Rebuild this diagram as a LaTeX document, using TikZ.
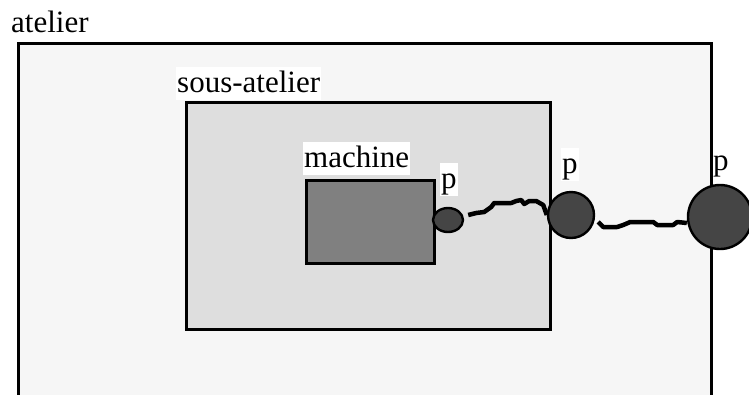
\documentclass[tikz,border=0pt]{standalone}
\usepackage{fontspec}
\setmainfont{Liberation Serif}
\usetikzlibrary{shapes.geometric}

\definecolor{fondatelier}{HTML}{F6F6F6}
\definecolor{fondsous}{HTML}{DEDEDE}
\definecolor{fondmachine}{HTML}{808080}
\definecolor{fondport}{HTML}{454545}

\begin{document}
\begin{tikzpicture}[
        x=1pt, y=-1pt,
        every node/.style={
            font=\fontsize{31}{37}\selectfont
        },
        boite/.style={draw, line width=2.6pt, inner sep=0pt, anchor=north west},
        etiquette/.style={fill=white, inner sep=1pt, text height=24pt, text depth=7pt, anchor=base west},
        port/.style={draw, line width=2.4pt, fill=fondport, inner sep=0pt},
        fil/.style={line width=4.5pt, line join=round}
    ]
        \useasboundingbox (0,0) rectangle (749,394);
        \clip (0,0) rectangle (749,394);

        % Atelier
        \node[boite, fill=fondatelier, minimum width=693pt, minimum height=420pt] (atelier) at (17,42) {};
        \node[etiquette, fill=none] (latelier) at (10,32) {atelier};

        % Sous-atelier
        \node[boite, fill=fondsous, minimum width=364pt, minimum height=227pt] (sousatelier) at (185,101) {};
        \node[etiquette] (lsous) at (176,92) {sous-atelier};

        % Machine
        \node[boite, fill=fondmachine, minimum width=128pt, minimum height=83pt] (machine) at (305,179) {};
        \node[etiquette] (lmachine) at (303,167) {machine};

        % Ports
        \node[port, ellipse, minimum width=30pt, minimum height=24pt] (pm) at (448,220) {};
        \node[port, circle, minimum size=46pt] (psa) at (571,215) {};
        \node[port, circle, minimum size=64pt] (pa) at (720,217) {};

        \node[etiquette] (lpm) at (440,188) {p};
        \node[etiquette] (lpsa) at (561,173) {p};
        \node[etiquette, fill=none] (lpa) at (712,170) {p};

        % Liaisons
        \draw[fil] (pm.east) ++(4,-5) -- ++(8,-2) -- ++(8,-1) -- ++(7,-5) -- ++(3,-4)
            -- ++(17,0) -- ++(5,-2) -- ++(5,-1) -- ++(3,4) -- ++(5,-3) -- ++(7,0)
            -- ++(7,4) -- (psa.west);
        \draw[fil] (psa.east) ++(3,7) -- ++(5,5) -- ++(14,0) -- ++(6,-2) -- ++(7,-3)
            -- ++(23,0) -- ++(4,3) -- ++(16,0) -- ++(4,-3) -- (pa.west |- 0,223);

    \end{tikzpicture}
\end{document}
